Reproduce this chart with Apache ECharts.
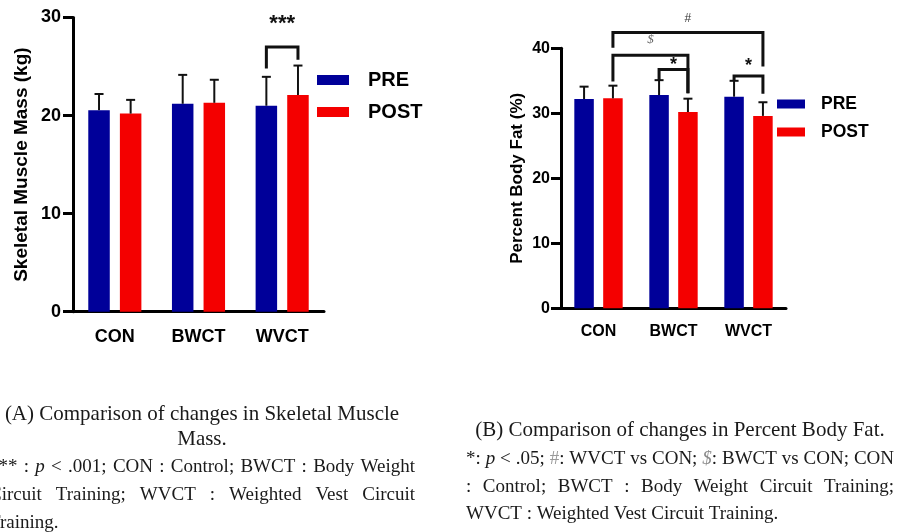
<!DOCTYPE html>
<html><head><meta charset="utf-8">
<script src="https://cdn.jsdelivr.net/npm/echarts@6/dist/echarts.min.js"></script>
<style>html,body{margin:0;padding:0;background:#fff;}#c{width:897px;height:532px;}</style>
</head><body><div id="c"></div>
<script>
// ---------------- data ----------------
const categories = ['CON', 'BWCT', 'WVCT'];
const seriesNames = ['PRE', 'POST'];
const smmPre = [20.55, 21.2, 21.0];
const smmPreSD = [1.65, 2.95, 2.95];
const smmPost = [20.2, 21.3, 22.1];
const smmPostSD = [1.4, 2.35, 3.0];
const pbfPre = [32.2, 32.8, 32.55];
const pbfPreSD = [1.9, 2.3, 2.45];
const pbfPost = [32.3, 30.2, 29.6];
const pbfPostSD = [1.95, 2.05, 2.1];
const smmAxis = { min: 0, max: 30, interval: 10 };
const pbfAxis = { min: 0, max: 40, interval: 10 };
// significance brackets: [fromCat, fromSeries, toCat, toSeries, topValue, leftLegEnd, rightLegEnd, label, labelValue]
const smmBrackets = [[2, 0, 2, 1, 27.0, 24.8, 25.7, '***', 29.8]];
const pbfBrackets = [
  [0, 1, 2, 1, 42.45, 40.1, 37.2, '#', 44.6],
  [0, 1, 1, 1, 38.95, 34.9, 33.1, '$', 41.3],
  [1, 0, 1, 1, 36.75, 35.1, 33.1, '*', 38.0],
  [2, 0, 2, 1, 35.75, 35.1, 33.0, '*', 37.9]
];
const captionATitle = ['(A) Comparison of changes in Skeletal Muscle', 'Mass.'];
const captionABody = ['*** : {i|p} < .001; CON : Control; BWCT : Body Weight', 'Circuit Training; WVCT : Weighted Vest Circuit', 'Training.'];
const captionBTitle = ['(B) Comparison of changes in Percent Body Fat.'];
const captionBBody = ['*: {i|p} < .05; {g|#}: WVCT vs CON; {s|$}: BWCT vs CON; CON', ': Control; BWCT : Body Weight Circuit Training;', 'WVCT : Weighted Vest Circuit Training.'];

// ---------------- styles ----------------
const BLUE = '#000099', RED = '#f40000';
const SANS = 'Liberation Sans';
const SERIF = 'Liberation Serif';
const L = { barWidth: 21.5, barGap: 0.47 };
const R = { barWidth: 19.5, barGap: 0.48 };
const offL = (L.barWidth * (1 + L.barGap)) / 2;
const offR = (R.barWidth * (1 + R.barGap)) / 2;

function axisPair(gi, ax, fs, nameTxt, nameFs, nameGap, xMargin, yMargin) {
  const line = { lineStyle: { color: '#000', width: 3 } };
  return {
    x: {
      type: 'category', gridIndex: gi, data: categories,
      axisLine: line,
      axisTick: { alignWithLabel: true, length: 10, lineStyle: { color: '#000', width: 3 } },
      axisLabel: { margin: xMargin, fontSize: fs, fontWeight: 'bold', color: '#000', fontFamily: SANS }
    },
    y: {
      type: 'value', gridIndex: gi, min: ax.min, max: ax.max, interval: ax.interval,
      axisLine: { show: true, lineStyle: { color: '#000', width: 3 } },
      axisTick: { show: true, length: 10, lineStyle: { color: '#000', width: 3 } },
      splitLine: { show: false },
      axisLabel: { margin: yMargin, fontSize: fs, fontWeight: 'bold', color: '#000', fontFamily: SANS },
      name: nameTxt, nameLocation: 'middle', nameGap: nameGap,
      nameTextStyle: { fontSize: nameFs, fontWeight: 'bold', color: '#000', fontFamily: SANS }
    }
  };
}

function errSeries(vals, sds, gi, sign, off) {
  return {
    type: 'custom', xAxisIndex: gi, yAxisIndex: gi, silent: true, z: 5, clip: false,
    encode: { x: 0, y: [1, 2] },
    data: vals.map((v, i) => [i, v, v + sds[i]]),
    renderItem: (p, api) => {
      const c = api.value(0);
      const a = api.coord([c, api.value(1)]);
      const b = api.coord([c, api.value(2)]);
      const x = a[0] + sign * off;
      return { type: 'group', children: [
        { type: 'line', shape: { x1: x, y1: a[1], x2: x, y2: b[1] }, style: { stroke: '#111', lineWidth: 2 } },
        { type: 'line', shape: { x1: x - 4.5, y1: b[1], x2: x + 4.5, y2: b[1] }, style: { stroke: '#111', lineWidth: 2 } }
      ] };
    }
  };
}

const labelStyles = {
  '***': { s: { fontSize: 22, fontWeight: 'bold', fontFamily: SANS, fill: '#111' }, dy: 4 },
  '*': { s: { fontSize: 18, fontWeight: 'bold', fontFamily: SANS, fill: '#111' }, dy: 4 },
  '#': { s: { fontSize: 12, fontWeight: 'normal', fontFamily: SANS, fill: '#333' }, dy: 0 },
  '$': { s: { fontSize: 13, fontStyle: 'italic', fontFamily: SERIF, fill: '#666' }, dy: 0 }
};

function bracketSeries(br, gi, off) {
  return {
    type: 'custom', xAxisIndex: gi, yAxisIndex: gi, silent: true, z: 6, clip: false,
    encode: { x: 0, y: 1 },
    data: br.map((b, i) => [b[0], b[4], i]),
    renderItem: (p, api) => {
      const b = br[api.value(2)];
      const xl = api.coord([b[0], 0])[0] + (b[1] === 0 ? -off : off);
      const xr = api.coord([b[2], 0])[0] + (b[3] === 0 ? -off : off);
      const yt = api.coord([b[0], b[4]])[1];
      const yl = api.coord([b[0], b[5]])[1];
      const yr = api.coord([b[0], b[6]])[1];
      const ly = api.coord([b[0], b[8]])[1];
      const ls = labelStyles[b[7]];
      return { type: 'group', children: [
        { type: 'polyline', shape: { points: [[xl, yl], [xl, yt], [xr, yt], [xr, yr]] },
          style: { stroke: '#111', lineWidth: 3, fill: null, lineJoin: 'miter' } },
        { type: 'text', x: (xl + xr) / 2, y: ly + ls.dy,
          style: Object.assign({ text: b[7], align: 'center', verticalAlign: 'middle' }, ls.s) }
      ] };
    }
  };
}

// ---------------- captions ----------------
const mctx = document.createElement('canvas').getContext('2d');
const pieceStyle = {
  n: { fill: '#1a1a1a', fontStyle: 'normal' },
  i: { fill: '#1a1a1a', fontStyle: 'italic' },
  g: { fill: '#9a9a9a', fontStyle: 'normal' },
  s: { fill: '#8a8a8a', fontStyle: 'italic' }
};
function parseWord(w) {
  const out = [];
  const re = /\{(\w)\|([^}]*)\}|([^{]+)/g;
  let m;
  while ((m = re.exec(w))) {
    if (m[1]) out.push([m[2], m[1]]); else out.push([m[3], 'n']);
  }
  return out;
}
function mw(t, st, fs) {
  mctx.font = (pieceStyle[st].fontStyle === 'italic' ? 'italic ' : '') + fs + 'px "' + SERIF + '"';
  return mctx.measureText(t).width;
}
function layoutLine(line, x0, x1, y, mode, fs) {
  const words = line.split(' ').map(parseWord);
  const widths = words.map(ps => ps.reduce((s, p) => s + mw(p[0], p[1], fs), 0));
  const total = widths.reduce((a, b) => a + b, 0);
  const sp = mw(' ', 'n', fs);
  let gap = sp, x = x0;
  if (mode === 'justify' && words.length > 1) gap = (x1 - x0 - total) / (words.length - 1);
  if (mode === 'center') x = (x0 + x1) / 2 - (total + sp * (words.length - 1)) / 2;
  const els = [];
  words.forEach((ps, wi) => {
    ps.forEach(p => {
      els.push({ type: 'text', x: x, y: y, silent: true,
        style: { text: p[0], fontSize: fs, fontFamily: SERIF, fontStyle: pieceStyle[p[1]].fontStyle,
          fill: pieceStyle[p[1]].fill, align: 'left', verticalAlign: 'middle' } });
      x += mw(p[0], p[1], fs);
    });
    x += gap;
  });
  return els;
}
const graphics = [];
const colA = [-11, 415], colB = [466, 894];
const TFS = 21, BFS = 19;
graphics.push(...layoutLine(captionATitle[0], colA[0], colA[1], 414, 'center', TFS));
graphics.push(...layoutLine(captionATitle[1], colA[0], colA[1], 439, 'center', TFS));
graphics.push(...layoutLine(captionABody[0], colA[0], colA[1], 467, 'justify', BFS));
graphics.push(...layoutLine(captionABody[1], colA[0], colA[1], 495, 'justify', BFS));
graphics.push(...layoutLine(captionABody[2], colA[0], colA[1], 523, 'left', BFS));
graphics.push(...layoutLine(captionBTitle[0], colB[0], colB[1], 430, 'center', TFS));
graphics.push(...layoutLine(captionBBody[0], colB[0], colB[1], 459, 'justify', BFS));
graphics.push(...layoutLine(captionBBody[1], colB[0], colB[1], 487, 'justify', BFS));
graphics.push(...layoutLine(captionBBody[2], colB[0], colB[1], 514, 'left', BFS));

// ---------------- chart ----------------
const A = axisPair(0, smmAxis, 18, 'Skeletal Muscle Mass (kg)', 19, 42, 16, 12);
const B = axisPair(1, pbfAxis, 16, 'Percent Body Fat (%)', 17, 35, 15, 11);

const chart = echarts.init(document.getElementById('c'), null, { renderer: 'canvas' });
chart.setOption({
  animation: false,
  backgroundColor: '#fff',
  grid: [
    { left: 73, top: 17.5, width: 251, height: 294.2 },
    { left: 561, top: 48.3, width: 225, height: 260 }
  ],
  xAxis: [A.x, B.x],
  yAxis: [A.y, B.y],
  legend: [
    { data: seriesNames, orient: 'vertical', left: 317, top: 69, padding: 0, itemGap: 10,
      itemWidth: 32, itemHeight: 10, icon: 'rect', selectedMode: false,
      textStyle: { fontSize: 20, fontWeight: 'bold', color: '#000', fontFamily: SANS, lineHeight: 22, padding: [0, 0, 0, 14] } },
    { data: seriesNames, orient: 'vertical', left: 777, top: 94, padding: 0, itemGap: 8,
      itemWidth: 28, itemHeight: 9, icon: 'rect', selectedMode: false,
      textStyle: { fontSize: 17.5, fontWeight: 'bold', color: '#000', fontFamily: SANS, lineHeight: 20, padding: [0, 0, 0, 11] } }
  ],
  series: [
    { name: seriesNames[0], type: 'bar', xAxisIndex: 0, yAxisIndex: 0, data: smmPre, barWidth: L.barWidth, barGap: (L.barGap * 100) + '%', itemStyle: { color: BLUE } },
    { name: seriesNames[1], type: 'bar', xAxisIndex: 0, yAxisIndex: 0, data: smmPost, barWidth: L.barWidth, barGap: (L.barGap * 100) + '%', itemStyle: { color: RED } },
    { name: seriesNames[0], type: 'bar', xAxisIndex: 1, yAxisIndex: 1, data: pbfPre, barWidth: R.barWidth, barGap: (R.barGap * 100) + '%', itemStyle: { color: BLUE } },
    { name: seriesNames[1], type: 'bar', xAxisIndex: 1, yAxisIndex: 1, data: pbfPost, barWidth: R.barWidth, barGap: (R.barGap * 100) + '%', itemStyle: { color: RED } },
    errSeries(smmPre, smmPreSD, 0, -1, offL),
    errSeries(smmPost, smmPostSD, 0, 1, offL),
    errSeries(pbfPre, pbfPreSD, 1, -1, offR),
    errSeries(pbfPost, pbfPostSD, 1, 1, offR),
    bracketSeries(smmBrackets, 0, offL),
    bracketSeries(pbfBrackets, 1, offR)
  ],
  graphic: graphics
});
</script>
</body></html>
